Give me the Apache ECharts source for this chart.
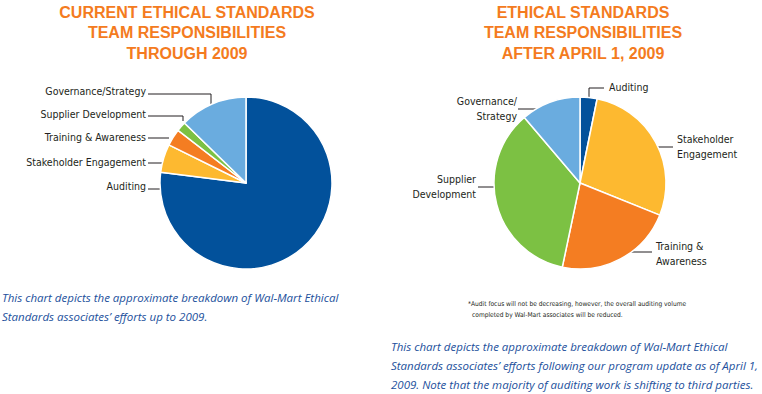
<!DOCTYPE html>
<html><head><meta charset="utf-8">
<script src="https://cdn.jsdelivr.net/npm/echarts@6/dist/echarts.min.js"></script>
<style>html,body{margin:0;padding:0;background:#fff}#c{width:762px;height:394px}</style>
</head><body><div id="c"></div>
<script>
const categoriesBefore = ['Auditing','Stakeholder Engagement','Training & Awareness','Supplier Development','Governance/Strategy'];
const valuesBefore = [77, 5.3, 3.2, 1.8, 12.7];
const categoriesAfter = ['Auditing','Stakeholder\nEngagement','Training &\nAwareness','Supplier\nDevelopment','Governance/\nStrategy'];
const valuesAfter = [3.2, 27.9, 22.2, 35.5, 11.2];
const sliceColors = ['#02519b','#fdb930','#f47d22','#7cc143','#6aacdf'];
const titleBefore = 'CURRENT ETHICAL STANDARDS\nTEAM RESPONSIBILITIES\nTHROUGH 2009';
const titleAfter = 'ETHICAL STANDARDS\nTEAM RESPONSIBILITIES\nAFTER APRIL 1, 2009';
const noteBefore = ['This chart depicts the approximate breakdown of Wal-Mart Ethical','Standards associates\u2019 efforts up to 2009.'];
const noteAfter = ['This chart depicts the approximate breakdown of Wal-Mart Ethical','Standards associates\u2019 efforts following our program update as of April 1,','2009. Note that the majority of auditing work is shifting to third parties.'];
const footnote = ['*Audit focus will not be decreasing, however, the overall auditing volume','completed by Wal-Mart associates will be reduced.'];

const narrow = '"DejaVu Sans Condensed", "Liberation Sans Narrow", sans-serif';
const labelPosBefore = [
  {x:146,y:186,align:'right',pts:[[148,189],[155,189],[162,189]]},
  {x:146,y:162,align:'right',pts:[[148,163],[157,163],[166,163]]},
  {x:146,y:137,align:'right',pts:[[148,138],[158,138],[169,138]]},
  {x:146,y:114,align:'right',pts:[[148,116],[183,116],[183,121]]},
  {x:146,y:91,align:'right',pts:[[148,94],[211,94],[211,108]]}
];
const labelPosAfter = [
  {x:609,y:87,align:'left',pts:[[589,100],[589,88],[604,88]]},
  {x:677,y:146,align:'left',pts:[[653,147],[663,147],[673,147]]},
  {x:656,y:253,align:'left',pts:[[625,252],[638,252],[652,252]]},
  {x:476,y:186,align:'right',pts:[[500,187],[489,187],[478,187]]},
  {x:517,y:108,align:'right',pts:[[543,109],[530,109],[518,109]]}
];
function layoutFn(arr){
  return function(p){
    const L = arr[p.dataIndex];
    return {x:L.x, y:L.y, align:L.align, verticalAlign:'middle', labelLinePoints:L.pts};
  };
}
function pieSeries(cats, vals, center, pos){
  return {
    type:'pie', center:center, radius:86, startAngle:90, clockwise:true,
    avoidLabelOverlap:false, animation:false,
    itemStyle:{borderColor:'#fff', borderWidth:1.5},
    label:{show:true, formatter:'{b}', color:'#231f20', fontFamily:narrow, fontSize:10.5, lineHeight:15},
    labelLine:{show:true, lineStyle:{color:'#231f20', width:1}},
    labelLayout:layoutFn(pos),
    emphasis:{disabled:true},
    data:cats.map((c,i)=>({name:c, value:vals[i], itemStyle:{color:sliceColors[i]}}))
  };
}
const blue = '#22509c';
const graphics = [];
noteBefore.forEach((t,i)=>graphics.push({type:'text', left:2, top:291+i*19, style:{text:t, fill:blue, font:'italic 11.5px "Open Sans", sans-serif'}}));
noteAfter.forEach((t,i)=>graphics.push({type:'text', left:391, top:340+i*19, style:{text:t, fill:blue, font:'italic 11.5px "Open Sans", sans-serif'}}));
footnote.forEach((t,i)=>graphics.push({type:'text', left:468+i*4, top:300+i*11, style:{text:t, fill:'#231f20', font:'6.6px ' + narrow}}));

const titleFont = '"Liberation Sans", Arial, sans-serif';
const chart = echarts.init(document.getElementById('c'), null, {renderer:'svg'});
chart.setOption({
  animation:false,
  title:[
    {text:titleBefore, left:182, top:-3, textAlign:'center', textStyle:{color:'#f47b20', fontSize:16, fontWeight:'bold', fontFamily:titleFont, lineHeight:20.5, align:'center'}},
    {text:titleAfter, left:578, top:-3, textAlign:'center', textStyle:{color:'#f47b20', fontSize:16, fontWeight:'bold', fontFamily:titleFont, lineHeight:20.5, align:'center'}}
  ],
  series:[
    pieSeries(categoriesBefore, valuesBefore, [246,183], labelPosBefore),
    pieSeries(categoriesAfter, valuesAfter, [580,183], labelPosAfter)
  ],
  graphic:graphics
});
</script></body></html>
